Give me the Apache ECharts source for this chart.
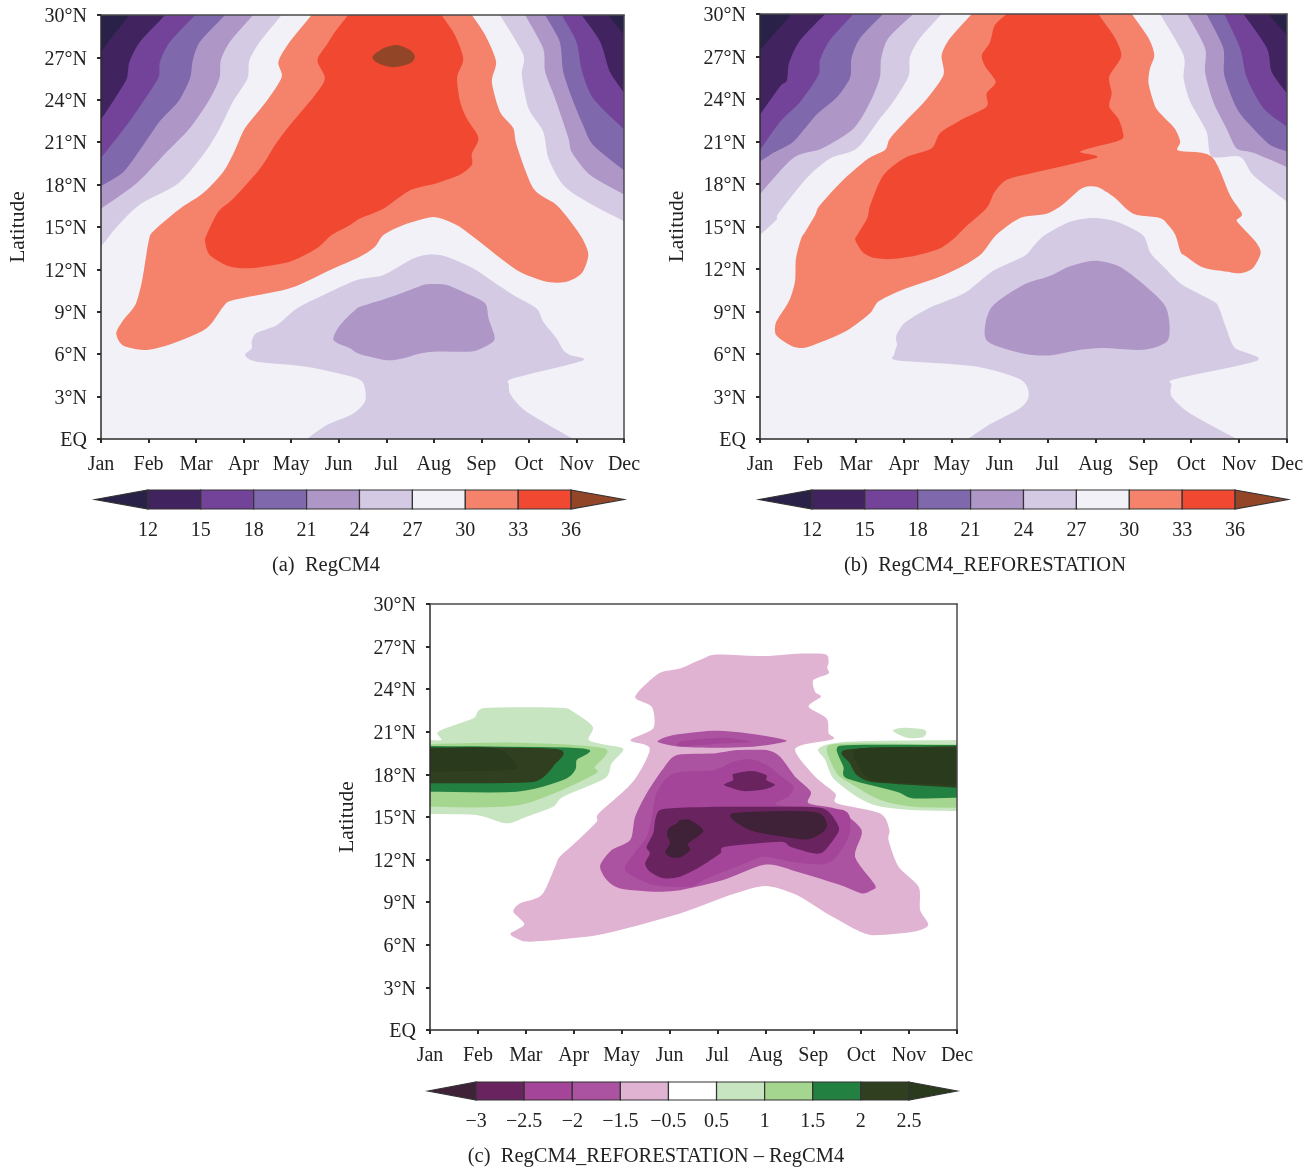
<!DOCTYPE html>
<html><head><meta charset="utf-8">
<style>html,body{margin:0;padding:0;background:#fff}#c{width:1316px;height:1168px}</style>
<script src="https://cdn.jsdelivr.net/npm/echarts@6/dist/echarts.min.js"></script>
</head><body><div id="c"></div>
<script>
const months=['Jan','Feb','Mar','Apr','May','Jun','Jul','Aug','Sep','Oct','Nov','Dec'];
const tempLevels=[12,15,18,21,24,27,30,33,36];
const diffLabels=['−3','−2.5','−2','−1.5','−0.5','0.5','1','1.5','2','2.5'];
const tempColors=['#2A2148','#41235F','#734399','#7F68AC','#AE96C6','#D5CAE3','#F1F1F7','#F5826A','#F14832','#934527'];
const diffColors=['#3F2138','#69235F','#A4459A','#AB53A0','#E1B3D3','#FFFFFF','#C8E5C1','#A5D68F','#228040','#2F3F1F','#2A3A1C'];

// Panel (a) contours: [month index, latitude]
const aL27=[[3.8,30],[3.34,28.1],[3.12,26.8],[3.08,25.5],[2.78,23.9],[2.5,22],[2.19,20.3],[1.63,18.1],[.82,16.6],[.33,15],[0,13.6]];
const aL24=[[3.2,30],[2.71,28.1],[2.52,26.8],[2.49,25.5],[2.26,23.9],[1.87,22],[1.38,20.3],[.75,18.1],[0,16.3]];
const aL21=[[2.61,30],[2.08,28.1],[1.93,26.8],[1.87,25.5],[1.63,23.9],[1.24,22.5],[.89,20.8],[.47,18.9],[0,17.9]];
const aL18=[[1.98,30],[1.45,28.1],[1.24,26.7],[1.21,25.6],[.93,24.1],[.54,22.2],[0,19.9]];
const aL15=[[1.35,30],[.82,28.1],[.6,26.7],[.54,25.5],[.33,24.3],[0,22.6]];
const aL12=[[.61,30],[.29,28.7],[0,27.4]];
const aR27=[[8.39,30],[8.88,27.2],[8.85,25.75],[8.99,23.4],[9.3,21.75],[9.41,19.86],[9.72,17.97],[10.21,16.8],[11,15.4]];
const aR24=[[8.92,30],[9.3,27.64],[9.34,26],[9.55,24.1],[9.83,21.3],[9.9,20.3],[10.28,18.7],[11,17.3]];
const aR21=[[9.34,30],[9.65,28.1],[9.72,26],[9.93,23.9],[10.14,22.2],[10.35,20.8],[11,19]];
const aR18=[[9.69,30],[10,28.1],[10.11,26.1],[10.35,24.1],[11,21.9]];
const aR15=[[10.11,30],[10.5,28.1],[10.7,26],[11,24.5]];
const aR12=[[10.67,30],[11,28.6]];
const aWarm30=[[4.43,30],[3.97,28.1],[3.73,26.7],[3.8,25.6],[3.48,23.9],[3.03,22],[2.8,20.3],[2.57,18.9],[2.15,17.4],[1.66,16.3],[1.1,14.7],[1,13.96],[.86,11.13],[.72,9.48],[.47,8.42],[.32,7.47],[.47,6.6],[.96,6.3],[1.52,6.77],[2.22,7.83],[2.57,9.36],[2.78,9.83],[3.97,10.66],[4.82,11.96],[5.447,12.9],[5.76,13.6],[5.94,14.43],[6.36,15.14],[6.99,15.7],[7.48,15.14],[7.87,14.2],[8.74,11.96],[9.37,11.13],[9.79,11.13],[10.11,11.72],[10.25,13],[10.14,14.08],[9.93,15.14],[9.58,16.56],[9.09,17.74],[8.74,20.8],[8.67,22],[8.39,23.16],[8.22,25.28],[8.31,26.7],[8.08,28.58],[7.8,30]];
const aWarm33=[[5.2,30],[4.92,28.8],[4.75,27.9],[4.55,26.8],[4.71,25.5],[4.47,24.2],[3.97,22.2],[3.66,20.8],[3.35,19.15],[2.78,17],[2.47,16.1],[2.22,14.43],[2.19,13.96],[2.29,13],[2.71,12.2],[3.2,12.1],[3.97,12.55],[4.54,13.49],[4.85,14.43],[5.24,15.14],[5.447,15.6],[5.94,16.3],[6.5,17.6],[7.06,18.1],[7.55,18.7],[7.8,19.4],[7.8,20.2],[7.94,21.3],[7.69,22.7],[7.55,23.9],[7.49,25.6],[7.62,26.9],[7.44,28.6],[7.16,30]];
const aWarm36=[[5.71,27.05],[5.94,27.64],[6.22,27.88],[6.5,27.52],[6.6,27.05],[6.5,26.58],[6.15,26.3],[5.83,26.58]];
const aLow27=[[4.33,0],[4.75,.99],[5.31,1.8],[5.55,2.64],[5.55,3.6],[5.38,4.3],[4.32,5.12],[3.27,5.47],[3.03,5.94],[3.17,6.41],[3.17,6.89],[3.27,7.5],[3.7,8.06],[4.12,9.24],[4.68,10.19],[5.38,11.25],[5.94,11.6],[6.5,12.66],[6.78,13],[6.99,13.06],[7.27,12.9],[7.83,12.07],[8.25,11.13],[8.67,10.19],[9.16,9.24],[9.3,8.3],[9.58,7.12],[9.72,6.3],[9.86,5.94],[10.13,5.54],[8.67,4.29],[8.58,3.82],[8.62,3.11],[8.95,1.93],[9.93,0]];
const aLow24=[[4.89,7],[5.03,8.07],[5.38,9.24],[5.447,9.36],[6.01,9.95],[6.5,10.54],[6.78,10.9],[6.99,10.97],[7.27,10.9],[7.69,10.3],[8.08,9.6],[8.15,8.54],[8.27,7.36],[8.25,6.89],[8,6.41],[7.76,6.18],[6.99,6.18],[6.67,6.01],[6.36,5.71],[6.01,5.57],[5.447,6],[5.24,6.41]];

// Panel (b) contours
const bL27=[[3.79,30],[3.34,28.3],[3.13,27],[3.1,25.6],[2.78,23.8],[2.5,22.6],[2.02,20.5],[1.46,19.8],[.97,18.4],[.38,15.9],[.35,15.5],[0,14.4]];
const bL24=[[3.2,30],[2.68,28.3],[2.53,26.9],[2.5,25.5],[2.3,23.8],[1.95,21.9],[1.29,20.5],[.7,19.86],[0,17.3]];
const bL21=[[2.57,30],[2.09,28.3],[1.91,26.9],[1.88,25.5],[1.6,24.1],[1.18,22.9],[.7,21],[.28,20.2],[0,19.6]];
const bL18=[[1.95,30],[1.46,28.16],[1.25,26.75],[1.22,25.7],[.84,23.8],[.42,22.4],[0,20.4]];
const bL15=[[1.36,30],[.84,28.16],[.61,26.6],[.56,25.3],[.42,24.9],[0,22.9]];
const bL12=[[.66,30],[0,27.46]];
const bR27=[[8.35,30],[8.84,27.1],[8.84,25.5],[8.98,23.8],[9.32,21.7],[9.43,19.93],[10.02,19.93],[10.3,18.6],[11,16.75]];
const bR24=[[8.91,30],[9.29,27.6],[9.29,25.9],[9.46,23.8],[9.74,21.9],[9.95,20.5],[10.3,20.2],[11,19.2]];
const bR21=[[9.32,30],[9.67,27.6],[9.69,25.7],[9.95,23.34],[10.3,21.9],[10.65,20.75],[11,20.3]];
const bR18=[[9.69,30],[10.02,27.6],[10.16,25.5],[10.51,23.34],[11,22.05]];
const bR15=[[10.09,30],[10.58,27.6],[10.68,25.9],[11,24.4]];
const bR12=[[10.61,30],[11,28.5]];
const bWarm30=[[4.42,30],[3.97,28.3],[3.79,27.1],[3.83,25.7],[3.48,24],[3.03,22.4],[2.71,21.2],[2.61,20.4],[2.26,19.8],[1.74,18.3],[1.25,16.5],[1.15,15.8],[.94,14.6],[.86,14.16],[.75,12.75],[.73,11.1],[.6,9.7],[.34,8.28],[.32,7.45],[.45,7],[.71,6.5],[1,6.5],[1.77,7.57],[2.29,8.86],[2.47,9.7],[2.95,10.5],[3.75,11.45],[4.27,12.28],[4.63,13.1],[4.93,14.4],[5.43,15.6],[5.98,15.9],[6.3,16.5],[6.72,17.7],[7.03,17.8],[7.38,17.1],[7.79,15.9],[8.35,15.6],[8.52,15.1],[8.67,14.4],[8.78,13.2],[8.89,12.9],[9.25,12.1],[9.77,11.8],[10.02,11.7],[10.28,12.04],[10.45,13.1],[10.35,13.9],[10.02,15.1],[9.95,15.46],[10.06,15.9],[9.81,17.2],[9.43,19.93],[8.77,20.33],[8.71,20.5],[8.77,21],[8.66,21.9],[8.42,22.75],[8.25,23.46],[8.11,25.1],[8.14,26.16],[8.23,27.1],[8.11,28.3],[7.76,30]];
const bWarm33=[[5.15,30],[4.9,29.2],[4.8,28],[4.63,27.1],[4.7,26.3],[4.92,25.2],[4.73,24.4],[4.73,23.46],[4.24,22.6],[3.76,21.6],[3.58,20.5],[3.03,19.86],[2.57,18.6],[2.3,16.5],[2.24,15.6],[2.03,14.4],[1.99,14.04],[2.14,13.2],[2.36,12.8],[2.73,12.7],[3.24,12.94],[3.75,13.45],[4.05,14.16],[4.3,15],[4.73,16.3],[4.9,17.46],[5.15,18.3],[5.64,18.75],[7.03,19.86],[6.68,20.3],[7.52,21.1],[7.57,21.7],[7.48,22.6],[7.29,23.46],[7.34,24.4],[7.29,25.6],[7.54,27],[7.41,28.3],[7.06,30]];
const bLow27=[[4.34,0],[4.78,1],[5.44,2.2],[5.61,3.1],[5.44,4.2],[4.49,5.13],[2.87,5.55],[2.8,5.95],[2.86,6.66],[2.84,7.25],[3.02,8.2],[3.53,9.25],[4.27,10.3],[4.85,11.84],[5.51,12.9],[5.73,13.7],[5.95,14.4],[6.47,15.34],[6.96,15.6],[7.45,15.34],[7.99,14.4],[8.15,13.13],[8.45,12.07],[8.81,10.9],[9.47,9.7],[9.58,9.25],[9.73,7.84],[9.91,6.43],[10.39,5.55],[8.67,4.24],[8.59,3.84],[8.59,3],[8.96,1.84],[9.95,0]];
const bLow24=[[4.72,7],[4.82,9.25],[5.51,10.9],[6.03,11.48],[6.47,12.19],[6.98,12.59],[7.49,12.19],[8.01,10.9],[8.48,9.25],[8.52,7],[8.01,6.3],[7.2,6.42],[6.69,6.3],[6.03,5.9],[5.44,6.07]];

// Panel (c) contours
const cPink=[[1.68,6.8],[1.97,7.44],[1.74,8.33],[1.88,8.92],[2.33,9.5],[2.61,11.5],[2.71,12.2],[3.1,13.4],[3.48,14.67],[3.52,15.25],[4.24,17.5],[4.59,19.83],[4.18,20.4],[4.66,21.24],[4.63,22.76],[4.28,23.47],[4.77,25.1],[5.22,25.46],[5.71,26.17],[5.99,26.45],[6.96,26.33],[7.66,26.5],[8.25,26.47],[8.32,25.93],[8.29,25.5],[8.32,25.1],[8,24.64],[8.04,23.8],[8.16,23.47],[7.9,22.77],[8.28,21.94],[8.32,20.9],[8.41,20.47],[7.62,19.83],[8.04,17.84],[8.46,16.66],[8.49,15.96],[9.4,15.25],[9.59,14.08],[9.57,13.38],[9.78,11.5],[10.2,10.09],[10.23,8.45],[10.4,7.39],[10.09,6.92],[9.26,6.68],[8.91,7.04],[8.28,8.21],[7.66,9.5],[7,10.14],[6.26,9.5],[5.22,8.21],[3.97,7.04],[3.27,6.57],[2.09,6.22],[1.81,6.45]];
const cMid=[[3.55,11.57],[3.79,12.67],[4.18,13.38],[4.28,15],[4.52,16.66],[4.87,18.42],[5.15,19.36],[5.92,19.48],[6.4,19.71],[7.03,19.71],[7.31,19.24],[7.62,17.84],[7.95,16.78],[7.9,15.96],[8.49,15.54],[9.01,14.08],[8.87,12.2],[9.29,10.21],[9.22,9.85],[9.01,9.62],[8.56,10.21],[7.66,11.15],[7,11.66],[6.12,10.56],[5.22,9.85],[4.66,9.74],[3.97,9.97],[3.69,10.56]];
const cStrip=[[4.75,20.3],[5.08,20.77],[5.92,21.07],[6.61,20.9],[7.45,20.37],[6.75,19.95],[5.92,19.88],[5.22,19.95]];
const cStripInner=[[5.22,20.3],[5.57,20.46],[6.12,20.58],[6.72,20.3],[6.12,20.18],[5.22,19.99]];
const cDeep=[[4.07,11.5],[4.18,12.08],[4.52,13.6],[4.63,15.02],[4.7,16.43],[4.87,17.48],[5.15,18.14],[5.92,18.3],[6.33,18.9],[6.68,19.08],[7.03,18.66],[7.34,17.84],[7.59,17.13],[7.48,16.43],[7.24,15.84],[8.63,15.49],[8.77,14.08],[8.63,12.91],[8.42,11.97],[8.14,11.66],[7.52,11.85],[6.96,12.2],[6.4,11.5],[5.78,10.68],[5.43,10.09],[4.66,10.21],[4.14,11.03]];
const cDarker=[[4.49,11.73],[4.59,12.44],[4.52,12.9],[4.66,13.85],[4.7,14.8],[4.8,15.49],[5.22,15.65],[6.12,15.72],[7.31,15.72],[8.21,15.6],[8.53,14.31],[8.46,13.6],[8.21,12.55],[8,12.44],[7.52,12.91],[7.31,13.26],[6.16,12.91],[6.06,12.44],[5.64,11.5],[5.22,10.8],[4.87,10.68],[4.59,11.15]];
const cDarkerTop=[[6.14,17.25],[6.33,17.6],[6.33,18.02],[6.72,18.24],[7.02,17.95],[7.02,17.6],[7.2,17.25],[6.96,16.94],[6.54,16.83]];
const cCore1=[[6.3,15.25],[8,15.37],[8.28,14.55],[8.21,13.96],[7.93,13.45],[7.59,13.5],[6.68,14.08]];
const cCore2=[[4.95,13.73],[4.98,14.2],[5.15,14.55],[5.22,14.78],[5.43,14.78],[5.71,14.01],[5.39,13.14],[5.43,12.67],[5.22,12.15],[5.01,12.2],[4.91,12.55],[5.01,13.14]];
const cGL1a=[[0,20.42],[.24,20.42],[.15,20.9],[.31,21.24],[.9,21.94],[1.01,22.48],[1.25,22.7],[2.71,22.7],[2.99,22.41],[3.4,21.36],[3.31,20.42],[3.69,20.07],[4.04,19.78],[3.79,18.77],[3.65,17.72],[2.78,16.43],[2.57,15.72],[2.02,15.02],[1.71,14.6],[1.5,14.6],[.97,15.14],[0,15.21]];
const cGL1b=[[0,20.14],[1.88,20.23],[3.65,19.83],[3.44,18.54],[3.41,17.95],[1.88,15.84],[0,15.72]];
const cGL15=[[0,20],[3.2,19.83],[3.06,19.01],[3.03,18.31],[2.78,17.6],[1.81,16.78],[0,16.78]];
const cGL2=[[0,19.9],[2.65,19.78],[2.59,18.66],[2.3,17.65],[1.88,17.41],[0,17.37]];
const cGL25=[[0,19.83],[1.39,19.83],[1.81,18.54],[1.6,18.3],[0,18.19]];
const cGRblob=[[9.66,21.07],[9.88,21.29],[10.3,21.17],[10.36,20.89],[10.27,20.6],[9.95,20.58]];
const cGR05=[[11,20.42],[8.7,20.3],[8.11,19.83],[8.25,19.01],[8.42,17.72],[8.91,16.43],[9.33,15.79],[10.02,15.49],[11,15.42]];
const cGR1=[[11,20.11],[8.7,20.18],[8.28,19.83],[8.49,18.07],[8.77,17.37],[9.4,16.19],[10.09,15.72],[11,15.65]];
const cGR15=[[11,20.07],[8.84,20.07],[8.49,19.83],[8.63,18.54],[8.7,17.72],[9.74,16.78],[10.09,16.31],[11,16.36]];
const cGR2=[[11,19.99],[8.7,19.76],[8.77,18.77],[8.91,17.95],[9.2,17.48],[10.09,17.25],[11,17.06]];
const cGR25=[[11,19.83],[8.96,19.83],[8.96,18.54],[9.24,17.6],[10.09,17.37],[11,17.25]];

const TL=[0,30],TR=[11,30];
const T=tempColors, D=diffColors;
const layersA=[
 {c:aL27,f:T[5],k:TL},{c:aL24,f:T[4],k:TL},{c:aL21,f:T[3],k:TL},{c:aL18,f:T[2],k:TL},{c:aL15,f:T[1],k:TL},{c:aL12,f:T[0],k:TL},
 {c:aR27,f:T[5],k:TR},{c:aR24,f:T[4],k:TR},{c:aR21,f:T[3],k:TR},{c:aR18,f:T[2],k:TR},{c:aR15,f:T[1],k:TR},{c:aR12,f:T[0],k:TR},
 {c:aWarm30,f:T[7]},{c:aWarm33,f:T[8]},{c:aWarm36,f:T[9],closed:1},{c:aLow27,f:T[5]},{c:aLow24,f:T[4],closed:1}];
const layersB=[
 {c:bL27,f:T[5],k:TL},{c:bL24,f:T[4],k:TL},{c:bL21,f:T[3],k:TL},{c:bL18,f:T[2],k:TL},{c:bL15,f:T[1],k:TL},{c:bL12,f:T[0],k:TL},
 {c:bR27,f:T[5],k:TR},{c:bR24,f:T[4],k:TR},{c:bR21,f:T[3],k:TR},{c:bR18,f:T[2],k:TR},{c:bR15,f:T[1],k:TR},{c:bR12,f:T[0],k:TR},
 {c:bWarm30,f:T[7]},{c:bWarm33,f:T[8]},{c:bLow27,f:T[5]},{c:bLow24,f:T[4],closed:1}];
const layersC=[
 {c:cPink,f:D[4],closed:1},{c:cMid,f:D[3],closed:1},{c:cStrip,f:D[3],closed:1},{c:cStripInner,f:D[2],closed:1},
 {c:cDeep,f:D[2],closed:1},{c:cDarker,f:D[1],closed:1},{c:cDarkerTop,f:D[1],closed:1},{c:cCore1,f:D[0],closed:1},{c:cCore2,f:D[0],closed:1},
 {c:cGL1a,f:D[6]},{c:cGL1b,f:D[7]},{c:cGL15,f:D[8]},{c:cGL2,f:D[9]},{c:cGL25,f:D[10]},
 {c:cGRblob,f:D[6],closed:1},{c:cGR05,f:D[6]},{c:cGR1,f:D[7]},{c:cGR15,f:D[8]},{c:cGR2,f:D[9]},{c:cGR25,f:D[10]}];

function smoothPts(p,closed){
 const n=p.length,out=[],k=0.13,S=6,at=i=>closed?p[(i+n)%n]:p[Math.max(0,Math.min(n-1,i))];
 const segs=closed?n:n-1;
 for(let i=0;i<segs;i++){
  const a=at(i-1),b=at(i),c=at(i+1),d=at(i+2);
  const c1=[b[0]+(c[0]-a[0])*k,b[1]+(c[1]-a[1])*k],c2=[c[0]-(d[0]-b[0])*k,c[1]-(d[1]-b[1])*k];
  for(let j=0;j<S;j++){const t=j/S,u=1-t;
   out.push([u*u*u*b[0]+3*u*u*t*c1[0]+3*u*t*t*c2[0]+t*t*t*c[0],u*u*u*b[1]+3*u*u*t*c1[1]+3*u*t*t*c2[1]+t*t*t*c[1]]);}
 }
 if(!closed)out.push(p[n-1]);
 return out;
}
const serif='"Liberation Serif"';
const ink='#2b2b2b';
function contourSeries(layers,idx){
 return {type:'custom',xAxisIndex:idx,yAxisIndex:idx,clip:true,silent:true,
  data:layers.map((l,i)=>[i,0]),
  renderItem(params,api){
   const l=layers[params.dataIndex];
   const px=l.c.map(q=>api.coord(q));
   const pts=smoothPts(px,!!l.closed);
   if(l.k)pts.push(api.coord(l.k));
   return {type:'polygon',shape:{points:pts},style:{fill:l.f,stroke:null}};
  }};
}
function mainGrid(left,top,w,h,bg){return {left,top,width:w,height:h,show:true,backgroundColor:bg,borderWidth:0};}
function mainX(idx){return {type:'value',gridIndex:idx,z:5,min:0,max:11,interval:1,splitLine:{show:false},
 axisLine:{show:true,onZero:false,lineStyle:{color:ink,width:1.5}},axisTick:{show:true,length:4,lineStyle:{color:ink,width:2}},
 axisLabel:{show:true,margin:16,fontFamily:serif,fontSize:20,color:'#222',formatter:v=>months[v],showMinLabel:true,showMaxLabel:true}};}
function mainY(idx){return {type:'value',gridIndex:idx,z:5,min:0,max:30,interval:3,splitLine:{show:false},
 name:'Latitude',nameLocation:'middle',nameGap:72,nameRotate:90,nameTextStyle:{fontFamily:serif,fontSize:21.5,color:'#222'},
 axisLine:{show:true,onZero:false,lineStyle:{color:ink,width:1.5}},axisTick:{show:true,length:4,lineStyle:{color:ink,width:2}},
 axisLabel:{show:true,margin:14,formatter:v=>'{a|'+(v===0?'EQ':v+'°N')+'}',showMinLabel:true,showMaxLabel:true,
  rich:{a:{padding:[4,0,0,0],fontFamily:serif,fontSize:20,color:'#222'}}}};}
function frameX(idx){return {type:'value',gridIndex:idx,position:'top',z:5,min:0,max:11,interval:1,splitLine:{show:false},
 axisLine:{show:true,onZero:false,lineStyle:{color:'#4a4a4a',width:1.5}},axisTick:{show:false},axisLabel:{show:false}};}
function frameY(idx){return {type:'value',gridIndex:idx,position:'right',z:5,min:0,max:30,interval:3,splitLine:{show:false},
 axisLine:{show:true,onZero:false,lineStyle:{color:'#4a4a4a',width:1.5}},axisTick:{show:false},axisLabel:{show:false}};}

function barGrid(left,top,w,h){return {left,top,width:w,height:h,show:false};}
function barX(idx,min,max,step,fmt){return {type:'value',gridIndex:idx,min,max,interval:step,splitLine:{show:false},
 axisLine:{show:false},axisTick:{show:false},
 axisLabel:{show:true,margin:12,fontFamily:serif,fontSize:20,color:'#222',formatter:fmt,showMinLabel:false,showMaxLabel:false}};}
function barY(idx){return {type:'value',gridIndex:idx,min:0,max:1,show:false};}
function barSeries(idx,edges,colors){
 // edges: n+1 stop positions on the bar's scale; first and last cells are the end arrows
 return {type:'custom',xAxisIndex:idx,yAxisIndex:idx,silent:true,clip:false,
  data:colors.map((c,i)=>[i,0]),
  renderItem(params,api){
   const i=params.dataIndex,a=edges[i],b=edges[i+1];
   let pts;
   if(i===0)pts=[[a,.5],[b,1],[b,0]];
   else if(i===colors.length-1)pts=[[a,1],[b,.5],[a,0]];
   else pts=[[a,1],[b,1],[b,0],[a,0]];
   return {type:'polygon',shape:{points:pts.map(q=>api.coord(q))},style:{fill:colors[i],stroke:'#333',lineWidth:1.2}};
  }};
}
const tempEdges=[9,...tempLevels,39];
const diffEdges=[-1,0,1,2,3,4,5,6,7,8,9,10];
const tempFmt=v=>String(v);
const diffFmt=v=>diffLabels[v]===undefined?'':diffLabels[v];

const capStyle={fontFamily:serif,fontSize:20.5,fontWeight:'normal',color:'#222'};
const option={
 animation:false,backgroundColor:'#fff',
 title:[
  {text:'(a)  RegCM4',left:321,top:550,textAlign:'center',textStyle:capStyle},
  {text:'(b)  RegCM4_REFORESTATION',left:980,top:550,textAlign:'center',textStyle:capStyle},
  {text:'(c)  RegCM4_REFORESTATION – RegCM4',left:651,top:1141,textAlign:'center',textStyle:capStyle}],
 grid:[mainGrid(101,15,523,424,'#F1F1F7'),mainGrid(760,14,527,425,'#F1F1F7'),mainGrid(430,604,527,426,'#fff'),
  barGrid(95,490,529,19),barGrid(759,490,529,19),barGrid(428,1082,529,18)],
 xAxis:[mainX(0),mainX(1),mainX(2),barX(3,9,39,3,tempFmt),barX(4,9,39,3,tempFmt),barX(5,-1,10,1,diffFmt),frameX(0),frameX(1),frameX(2)],
 yAxis:[mainY(0),mainY(1),mainY(2),barY(3),barY(4),barY(5),frameY(0),frameY(1),frameY(2)],
 series:[contourSeries(layersA,0),contourSeries(layersB,1),contourSeries(layersC,2),
  barSeries(3,tempEdges,tempColors),barSeries(4,tempEdges,tempColors),barSeries(5,diffEdges,diffColors)]
};
echarts.init(document.getElementById('c'),null,{renderer:'canvas'}).setOption(option);
</script></body></html>
